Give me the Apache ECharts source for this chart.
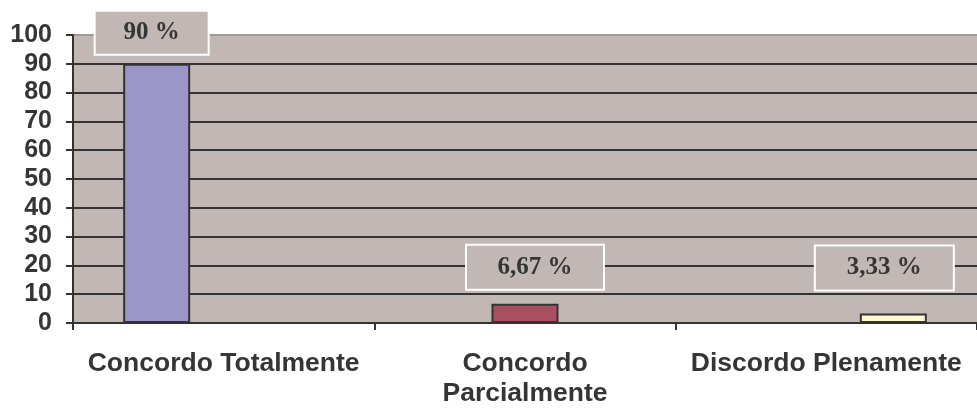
<!DOCTYPE html>
<html>
<head>
<meta charset="utf-8">
<script src="https://cdn.jsdelivr.net/npm/echarts@6/dist/echarts.min.js"></script>
<style>
  html, body { margin: 0; padding: 0; background: #ffffff; }
  #chart { width: 977px; height: 409px; }
</style>
</head>
<body>
<div id="chart"></div>
<script>
// Survey answers and their share of responses (%)
const categories = ['Concordo Totalmente', 'Concordo\nParcialmente', 'Discordo Plenamente'];
const seriesNames = ['Concordo Totalmente', 'Concordo Parcialmente', 'Discordo Plenamente'];
const shares = [90, 6.67, 3.33];
const shareLabels = ['90 %', '6,67 %', '3,33 %'];
const yTicks = [0, 10, 20, 30, 40, 50, 60, 70, 80, 90, 100];

const barColors = ['#9C96C8', '#A8505F', '#FFF9D2'];
const plotBg = '#C1B7B4';
const ink = '#353535';

// Value boxes sit above their bars, each nudged a little like the original layout
const labelBoxes = [
  { width: 112, height: 42, offset: [-5, -10] },
  { width: 136, height: 43, offset: [10, -15] },
  { width: 137, height: 43, offset: [-9, -24] }
];

// One series per answer, each holding a single bar in its own slot of the cluster
const series = shares.map(function (v, i) {
  const data = categories.map(function (_, j) { return j === i ? v : null; });
  return {
    name: seriesNames[i],
    type: 'bar',
    data: data,
    barWidth: 67,
    barGap: '0%',
    itemStyle: { color: barColors[i], borderColor: '#333333', borderWidth: 2 },
    label: {
      show: true,
      position: 'top',
      distance: 0,
      offset: labelBoxes[i].offset,
      formatter: function () { return shareLabels[i]; },
      fontFamily: '"Liberation Serif", "Times New Roman", serif',
      fontWeight: 'bold',
      fontSize: 25,
      color: ink,
      backgroundColor: plotBg,
      borderColor: '#ffffff',
      borderWidth: 2,
      width: labelBoxes[i].width,
      height: labelBoxes[i].height,
      lineHeight: labelBoxes[i].height,
      align: 'center'
    }
  };
});

const chart = echarts.init(document.getElementById('chart'), null, { renderer: 'canvas' });
chart.setOption({
  animation: false,
  backgroundColor: '#ffffff',
  grid: {
    left: 73, right: -5, top: 35, bottom: 86,
    show: true, backgroundColor: plotBg, borderWidth: 0
  },
  xAxis: {
    type: 'category',
    data: categories,
    axisLine: { show: true, lineStyle: { color: '#333333', width: 2 } },
    axisTick: { show: true, length: 7, lineStyle: { color: '#333333', width: 2 } },
    axisLabel: {
      interval: 0,
      margin: 26,
      fontFamily: '"Liberation Sans", Arial, sans-serif',
      fontWeight: 'bold',
      fontSize: 26.5,
      lineHeight: 30,
      color: ink
    },
    splitLine: { show: false }
  },
  yAxis: {
    type: 'value',
    min: yTicks[0],
    max: yTicks[yTicks.length - 1],
    interval: yTicks[1] - yTicks[0],
    axisLine: { show: true, lineStyle: { color: '#333333', width: 2 } },
    axisTick: { show: true, length: 7, lineStyle: { color: '#333333', width: 2 } },
    axisLabel: {
      margin: 21,
      fontFamily: '"Liberation Sans", Arial, sans-serif',
      fontWeight: 'bold',
      fontSize: 25,
      color: ink
    },
    splitLine: {
      show: true,
      lineStyle: { color: ['#333333','#333333','#333333','#333333','#333333','#333333','#333333','#333333','#333333','#333333','#A39894'], width: 2 }
    }
  },
  series: series
});
</script>
</body>
</html>
